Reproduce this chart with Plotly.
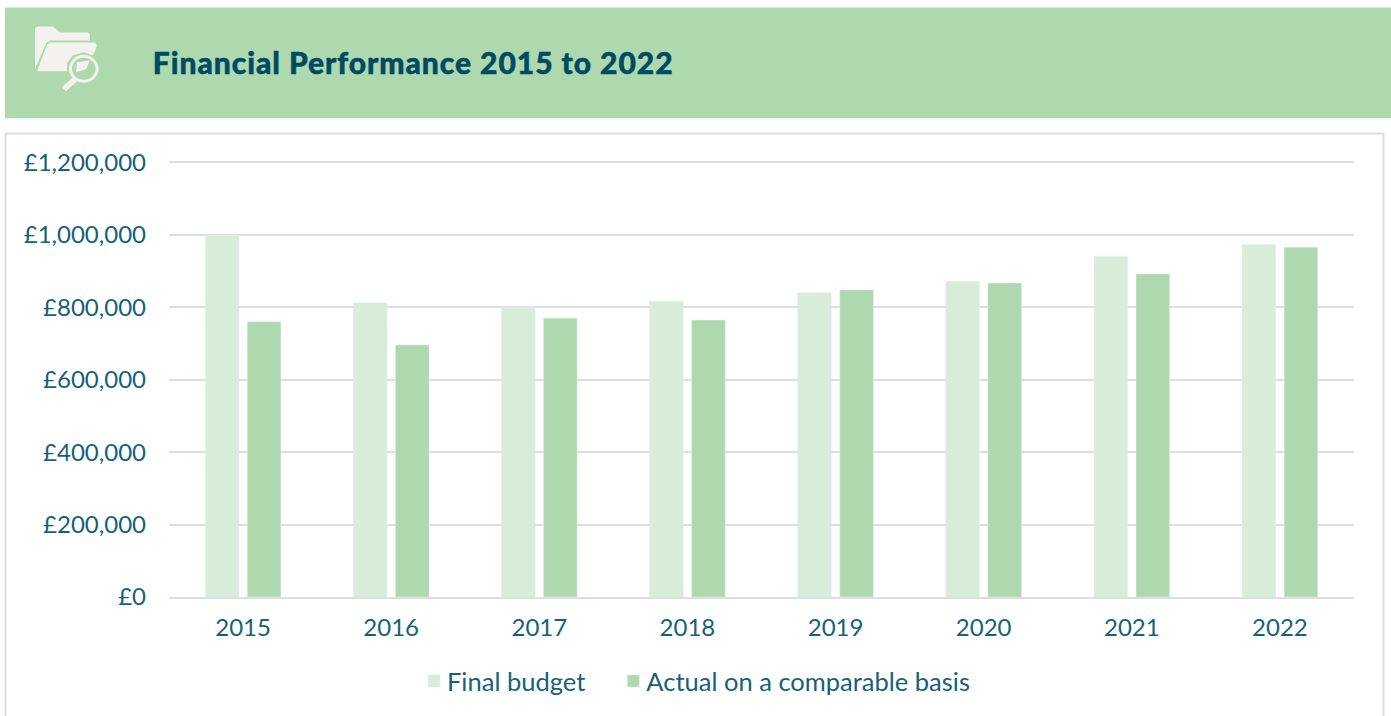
import plotly.graph_objects as go

years = ["2015", "2016", "2017", "2018", "2019", "2020", "2021", "2022"]
final_budget = [1000000, 812000, 804000, 817000, 840000, 872000, 941000, 974000]
actual_comparable = [760000, 696000, 770000, 765000, 848000, 867000, 892000, 966000]
y_ticks = [0, 200000, 400000, 600000, 800000, 1000000, 1200000]
y_labels = ["£0", "£200,000", "£400,000", "£600,000", "£800,000", "£1,000,000", "£1,200,000"]
title_text = "Financial Performance 2015 to 2022"

W, H = 1391, 716
L, R, T, B = 169, 37, 160, 117.5
PW, PH = W - L - R, H - T - B
FONT = "Lato"
TEXT = "#17607A"
TITLE = "#004A62"
LIGHT = "#D7ECD9"
MID = "#AED8AE"
GRID = "#DEDEDE"
ICON = "#F3F2EC"
Y_TOP = 1200000 * (598.5 - 160) / (598.5 - 162.5)


def px(x):
    return (x - L) / PW


def py(y):
    return 1 - (y - T) / PH


def rect(x0, y0, x1, y1, fill=None, line=None, lw=0):
    return dict(type="rect", xref="paper", yref="paper", x0=px(x0), x1=px(x1), y0=py(y0), y1=py(y1),
                fillcolor=fill, line=dict(color=line, width=lw), layer="below")


def path(points, fill=None, line=None, lw=0):
    d = "M" + " L".join(f"{px(a):.5f},{py(b):.5f}" for a, b in points) + " Z"
    return dict(type="path", xref="paper", yref="paper", path=d, fillcolor=fill,
                line=dict(color=line, width=lw), layer="above")


shapes = [
    rect(5, 7, 1392, 118, fill=MID),
    rect(5.5, 133.5, 1383.5, 730, line=GRID, lw=2),
    path([(35, 69), (35, 28), (37, 26), (53, 26), (60, 32), (88, 32), (90, 34), (90, 40), (50, 40), (46, 43)], fill=ICON),
    path([(37, 71), (47, 44), (50, 42), (95, 42), (97, 45), (93, 55), (84, 52), (73, 55), (67, 63), (67, 71)], fill=ICON),
    dict(type="circle", xref="paper", yref="paper", x0=px(70.5), x1=px(97), y0=py(56), y1=py(81),
         fillcolor="rgba(0,0,0,0)", line=dict(color=ICON, width=3), layer="above"),
    path([(77, 62), (90, 60), (86, 69), (76, 72)], fill=ICON),
    path([(64, 87), (73, 79), (75, 81), (66, 89)], fill=ICON, line=ICON, lw=3),
]

fig = go.Figure()
fig.add_bar(x=years, y=final_budget, name="Final budget", marker_color=LIGHT)
fig.add_bar(x=years, y=actual_comparable, name="Actual on a comparable basis", marker_color=MID)

fig.update_layout(
    width=W, height=H, autosize=False,
    margin=dict(l=L, r=R, t=T, b=B, pad=0),
    paper_bgcolor="white", plot_bgcolor="white",
    barmode="group", bargap=0.433, bargroupgap=0.2,
    font=dict(family=FONT, color=TEXT, size=24),
    shapes=shapes,
    annotations=[dict(text=title_text, xref="paper", yref="paper", x=px(167), y=py(62),
                      xanchor="left", yanchor="middle", showarrow=False,
                      font=dict(family=FONT, size=30, color=TITLE, weight=900))],
    legend=dict(orientation="h", xref="paper", yref="paper", x=px(407), y=py(682), xanchor="left",
                yanchor="middle", font=dict(family=FONT, size=25.5, color=TEXT), traceorder="normal",
                itemclick=False, itemdoubleclick=False),
    xaxis=dict(showgrid=False, ticks="", showline=True, linecolor=GRID, linewidth=2,
               tickfont=dict(family=FONT, size=24, color=TEXT), ticklabelstandoff=8),
    yaxis=dict(range=[0, Y_TOP], tickvals=y_ticks, ticktext=y_labels, showgrid=True, gridcolor=GRID, gridwidth=2,
               zeroline=False, ticks="", tickfont=dict(family=FONT, size=24, color=TEXT), ticklabelstandoff=22),
)

post = """
document.body.style.margin='0';
document.body.style.overflow='hidden';
document.querySelectorAll('.legendsymbols').forEach(function(g){g.setAttribute('transform','translate(7,0)');});
var items=document.querySelectorAll('.legend .traces');
var m=items[1].getAttribute('transform').match(/translate\\(([-0-9.]+)[ ,]*([-0-9.]*)/);
items[1].setAttribute('transform','translate('+(parseFloat(m[1])+16)+','+(parseFloat(m[2])||0)+')');
document.querySelectorAll('clipPath[id^="legend"] rect').forEach(function(r){r.setAttribute('width',parseFloat(r.getAttribute('width'))+40);});
var t=document.querySelector('.annotation-text');
t.style.letterSpacing='0.95px';t.style.stroke='#004A62';t.style.strokeWidth='0.5px';
"""

fig.write_html("out.html", config=dict(displayModeBar=False), post_script=post)
